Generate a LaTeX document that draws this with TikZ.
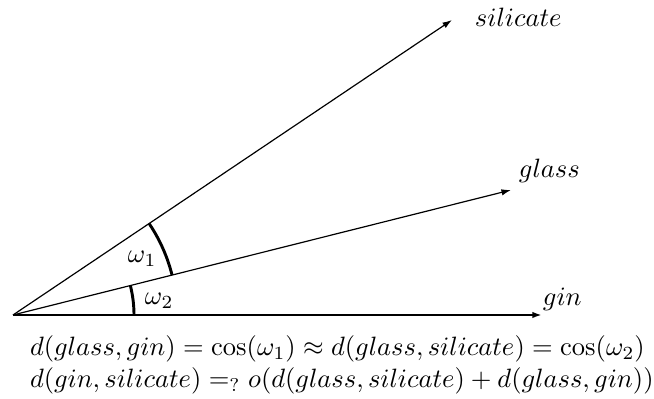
\documentclass[tikz,border=0pt]{standalone}
\usetikzlibrary{arrows.meta}
\begin{document}
\begin{tikzpicture}[x=0.377pt,y=-0.377pt,
  vec/.style={-{Latex[length=3.6pt,width=2.4pt]}, line width=0.45pt},
  basevec/.style={vec, line width=0.85pt},
  anglearc/.style={line width=1.1pt},
  lbl/.style={anchor=base west, inner sep=0pt, outer sep=0pt},
]
\useasboundingbox (0,0) rectangle (654,399);
\coordinate (O) at (13,315);
\coordinate (S) at (452,20);
\coordinate (G) at (511,190);
\coordinate (N) at (542,315);
\draw[vec] (O) -- (S);
\draw[vec] (O) -- (G);
\draw[basevec] (O) -- (N);
\draw[anglearc] ([shift={(-14.1:164)}]O) arc[start angle=-14.1, end angle=-33.9, radius=164];
\draw[anglearc] ([shift={(0:121)}]O) arc[start angle=0, end angle=-14.1, radius=121];
\node[lbl] (ls) at (475,27) {$silicate$};
\node[lbl] (lg) at (519,178) {$glass$};
\node[lbl] (ln) at (543,306) {$gin$};
\node[lbl] (w1) at (128,263) {$\omega_1$};
\node[lbl] (w2) at (145,305) {$\omega_2$};
\node[lbl] (e1) at (30,356) {$d(glass,gin)=\cos(\omega_1)\approx d(glass,silicate)=\cos(\omega_2)$};
\node[lbl] (e2) at (30,388) {$d(gin,silicate)=_?o(d(glass,silicate)+d(glass,gin))$};
\end{tikzpicture}
\end{document}
